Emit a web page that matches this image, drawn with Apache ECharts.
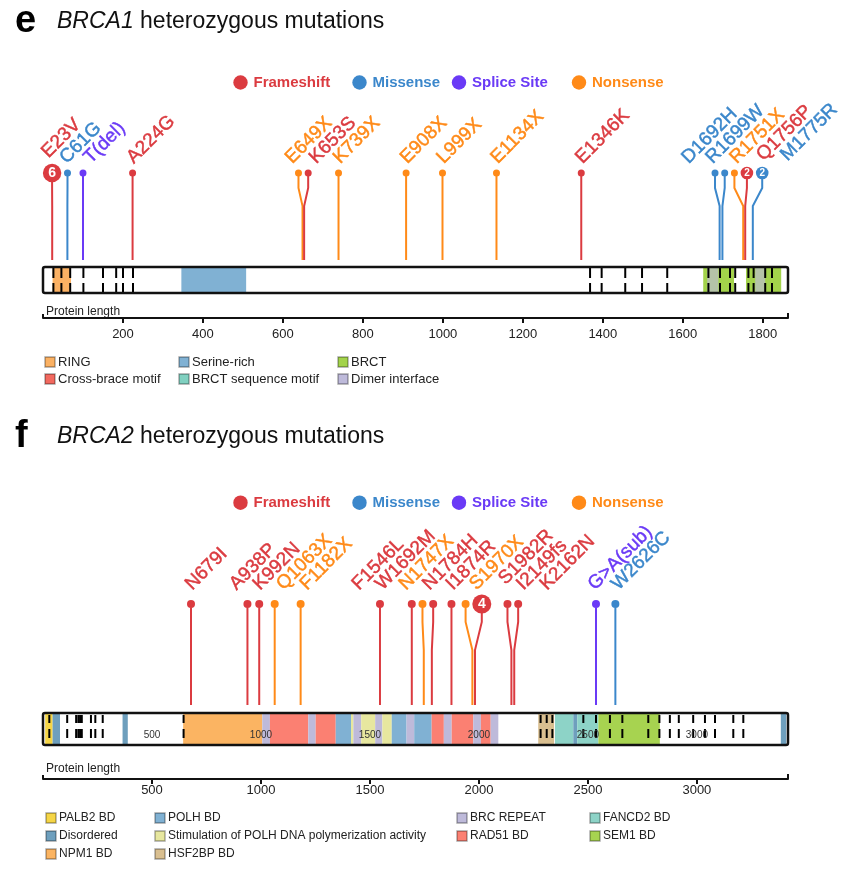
<!DOCTYPE html>
<html><head><meta charset="utf-8">
<script src="https://cdn.jsdelivr.net/npm/echarts@6/dist/echarts.min.js"></script>
<style>html,body{margin:0;padding:0;background:#fff}#c{width:843px;height:875px}</style>
</head><body><div id="c"></div><script>
// ---------------- DATA ----------------
const typeNames = ['Frameshift', 'Missense', 'Splice Site', 'Nonsense'];

// BRCA1
const brca1Length = 1863;
const brca1Ticks = [200, 400, 600, 800, 1000, 1200, 1400, 1600, 1800];
const brca1MutPos = [23, 61, 100, 224, 649, 653, 739, 908, 999, 1134, 1346, 1692, 1699, 1751, 1756, 1775];
const brca1MutLabel = ['E23V', 'C61G', 'T(del)', 'A224G', 'E649X', 'K653S', 'K739X', 'E908X', 'L999X', 'E1134X', 'E1346K', 'D1692H', 'R1699W', 'R1751X', 'Q1756P', 'M1775R'];
const brca1MutType = ['Frameshift', 'Missense', 'Splice Site', 'Frameshift', 'Nonsense', 'Frameshift', 'Nonsense', 'Nonsense', 'Nonsense', 'Nonsense', 'Frameshift', 'Missense', 'Missense', 'Nonsense', 'Frameshift', 'Missense'];
const brca1MutCount = [6, 1, 1, 1, 1, 1, 1, 1, 1, 1, 1, 1, 1, 1, 2, 2];
const brca1DomStart = [24, 346, 1651, 1758, 1661, 1781];
const brca1DomEnd = [70, 508, 1728, 1846, 1689, 1806];
const brca1DomName = ['RING', 'Serine-rich', 'BRCT', 'BRCT', 'Dimer interface', 'Dimer interface'];
const brca1Exons = [26, 46, 68, 101, 150, 183, 200, 225, 1368, 1397, 1456, 1498, 1561, 1664, 1693, 1718, 1731, 1764, 1777, 1806, 1823];
const brca1LegendNames = ['RING', 'Cross-brace motif', 'Serine-rich', 'BRCT sequence motif', 'BRCT', 'Dimer interface'];

// BRCA2
const brca2Length = 3418;
const brca2Ticks = [500, 1000, 1500, 2000, 2500, 3000];
const brca2MutPos = [679, 938, 992, 1063, 1182, 1546, 1692, 1747, 1784, 1874, 1970, 1982, 2149, 2162, 2537, 2626];
const brca2MutLabel = ['N679I', 'A938P', 'K992N', 'Q1063X', 'F1182X', 'F1546L', 'W1692M', 'N1747X', 'N1784H', 'I1874R', 'S1970X', 'S1982R', 'I2149fs', 'K2162N', 'G>A(sub)', 'W2626C'];
const brca2MutType = ['Frameshift', 'Frameshift', 'Frameshift', 'Nonsense', 'Nonsense', 'Frameshift', 'Frameshift', 'Nonsense', 'Frameshift', 'Frameshift', 'Nonsense', 'Frameshift', 'Frameshift', 'Frameshift', 'Splice Site', 'Missense'];
const brca2MutCount = [1, 1, 1, 1, 1, 1, 1, 1, 1, 1, 1, 4, 1, 1, 1, 1];
const brca2DomStart = [10, 44, 365, 643, 1006, 1041, 1217, 1251, 1343, 1413, 1424, 1460, 1524, 1557, 1600, 1668, 1703, 1783, 1839, 1875, 1974, 2009, 2054, 2272, 2349, 2433, 2451, 2548, 3385];
const brca2DomEnd = [44, 78, 389, 1006, 1041, 1217, 1251, 1343, 1413, 1424, 1460, 1524, 1557, 1600, 1668, 1703, 1783, 1839, 1875, 1974, 2009, 2054, 2089, 2345, 2433, 2451, 2548, 2830, 3410];
const brca2DomName = ['PALB2 BD', 'Disordered', 'Disordered', 'NPM1 BD', 'BRC REPEAT', 'RAD51 BD', 'BRC REPEAT', 'RAD51 BD', 'POLH BD', 'Stimulation of POLH DNA polymerization activity', 'BRC REPEAT', 'Stimulation of POLH DNA polymerization activity', 'BRC REPEAT', 'Stimulation of POLH DNA polymerization activity', 'POLH BD', 'BRC REPEAT', 'POLH BD', 'RAD51 BD', 'BRC REPEAT', 'RAD51 BD', 'BRC REPEAT', 'RAD51 BD', 'BRC REPEAT', 'HSF2BP BD', 'FANCD2 BD', 'Disordered', 'FANCD2 BD', 'SEM1 BD', 'Disordered'];
const brca2Exons = [29, 111, 152, 162, 170, 178, 220, 240, 274, 645, 2283, 2311, 2337, 2479, 2537, 2601, 2658, 2777, 2828, 2876, 2917, 2983, 3037, 3083, 3167, 3213];
const brca2LegendNames = ['PALB2 BD', 'Disordered', 'NPM1 BD', 'POLH BD', 'Stimulation of POLH DNA polymerization activity', 'HSF2BP BD', 'BRC REPEAT', 'RAD51 BD', 'FANCD2 BD', 'SEM1 BD'];

// ---------------- STYLES ----------------
const FONT = '"Liberation Sans", Arial, Helvetica, sans-serif';
const typeColor = {'Frameshift': '#DB3B40', 'Missense': '#3B87CB', 'Splice Site': '#6A3AF6', 'Nonsense': '#FF8A18'};
const domainColor = {
  'RING': '#FBB163', 'Cross-brace motif': '#F2695F', 'Serine-rich': '#80B1D3', 'BRCT sequence motif': '#80D0C0',
  'BRCT': '#A3D34B', 'Dimer interface': 'rgba(190,186,218,0.65)',
  'PALB2 BD': '#F5D546', 'Disordered': '#6E9FBD', 'NPM1 BD': '#FBB462', 'POLH BD': '#80B1D3',
  'Stimulation of POLH DNA polymerization activity': '#E7E79F', 'HSF2BP BD': '#D9BF90',
  'BRC REPEAT': '#BEBADA', 'RAD51 BD': '#FB8072', 'FANCD2 BD': '#8DD3C7', 'SEM1 BD': '#A7D350'
};
const legendSwatch = {'Dimer interface': '#BEBADA'};

const P1 = {axisY: 318, headY: -145, upperKnee: -130, lowerKnee: -112, stemBottom: -58, barTop: -51, barBottom: -25,
  exonA: [-50, -40], exonB: [-35, -25], dotR: 3.5, midR: 6.3, bigR: 9.2, headGap: 2.7, labelLift: 9, labelGap: 24, labelDx: -2.5, labelSize: 19};
const P2 = {axisY: 779, headY: -175, upperKnee: -157, lowerKnee: -129, stemBottom: -74, barTop: -66, barBottom: -34,
  exonA: [-64, -56], exonB: [-50, -41], dotR: 4, midR: 6.3, bigR: 9.5, headGap: 2.7, labelLift: 13, labelGap: 23.5, labelDx: -2.5, labelSize: 19, innerLabelY: -44};

// ---------------- HELPERS ----------------
function spread(d, gapFn) {
  const n = d.length, clusters = [];
  for (let i = 0; i < n; i++) {
    let c = {idx: [i], off: [0], base: d[i]};
    while (clusters.length) {
      const p = clusters[clusters.length - 1];
      const pl = p.idx[p.idx.length - 1];
      const g = gapFn(pl, i);
      const lastOff = p.off[p.off.length - 1];
      if (p.base + lastOff + g > c.base + 1e-9) {
        const shift = lastOff + g;
        const idx = p.idx.concat(c.idx);
        const off = p.off.concat(c.off.map(o => o + shift));
        let s = 0; idx.forEach((k, j) => { s += d[k] - off[j]; });
        c = {idx, off, base: s / idx.length};
        clusters.pop();
      } else break;
    }
    clusters.push(c);
  }
  const out = new Array(n);
  clusters.forEach(c => c.idx.forEach((k, j) => { out[k] = c.base + c.off[j]; }));
  return out;
}

function lollipopSeries(gi, pos, labels, types, counts, L) {
  let cache = null;
  function layout(api, cs) {
    const bottom = cs.y + cs.height;
    const px = pos.map(p => api.coord([p, 0])[0]);
    const r = counts.map(c => c >= 4 ? L.bigR : (c >= 2 ? L.midR : L.dotR));
    const hx = spread(px, (a) => r[a] + r[a + 1] + L.headGap);
    const hy = bottom + L.headY;
    const ly = r.map(rr => hy - rr - L.labelLift);
    const s = hx.map((x, i) => x + ly[i]);
    const order = s.map((v, i) => i).sort((a, b) => s[a] - s[b]);
    const sSorted = order.map(i => s[i]);
    const spreadS = spread(sSorted, () => L.labelGap);
    const lx = new Array(pos.length);
    order.forEach((k, j) => { lx[k] = spreadS[j] - ly[k] + L.labelDx; });
    return {bottom, px, r, hx, hy, ly, lx};
  }
  return {
    type: 'custom', xAxisIndex: gi, yAxisIndex: gi, clip: false, silent: true, z: 10,
    data: pos.map((p, i) => [p, i]),
    renderItem: function (params, api) {
      const i = params.dataIndex;
      if (i === 0 || !cache) cache = layout(api, params.coordSys);
      const C = cache, col = typeColor[types[i]];
      const b = C.bottom;
      const children = [];
      const pts = [[C.px[i], b + L.stemBottom], [C.px[i], b + L.lowerKnee], [C.hx[i], b + L.upperKnee], [C.hx[i], C.hy + C.r[i] - 0.5]];
      children.push({type: 'polyline', shape: {points: pts}, style: {stroke: col, lineWidth: 2, fill: null}});
      children.push({type: 'circle', shape: {cx: C.hx[i], cy: C.hy, r: C.r[i]}, style: {fill: col}});
      if (counts[i] > 1) {
        children.push({type: 'text', x: C.hx[i], y: C.hy + 0.5, style: {text: String(counts[i]), fill: '#fff',
          font: 'bold ' + (C.r[i] > 8 ? 14 : 10) + 'px ' + FONT, align: 'center', verticalAlign: 'middle'}});
      }
      children.push({type: 'text', x: C.lx[i], y: C.ly[i], rotation: Math.PI / 4, style: {text: labels[i], fill: col,
        stroke: col, lineWidth: 0.45,
        font: L.labelSize + 'px ' + FONT, align: 'left', verticalAlign: 'middle'}});
      return {type: 'group', children};
    }
  };
}

function domainSeries(gi, starts, ends, names, L) {
  return {
    type: 'custom', xAxisIndex: gi, yAxisIndex: gi, clip: false, silent: true, z: 2,
    data: starts.map((s, i) => [s, ends[i], i]),
    renderItem: function (params, api) {
      const cs = params.coordSys, b = cs.y + cs.height;
      const x1 = api.coord([api.value(0), 0])[0], x2 = api.coord([api.value(1), 0])[0];
      return {type: 'rect', shape: {x: x1, y: b + L.barTop, width: x2 - x1, height: L.barBottom - L.barTop},
        style: {fill: domainColor[names[api.value(2)]]}};
    }
  };
}

function exonSeries(gi, exons, L) {
  return {
    type: 'custom', xAxisIndex: gi, yAxisIndex: gi, clip: false, silent: true, z: 3,
    data: exons.map(e => [e, 0]),
    renderItem: function (params, api) {
      const cs = params.coordSys, b = cs.y + cs.height;
      const x = api.coord([api.value(0), 0])[0];
      return {type: 'group', children: [
        {type: 'line', shape: {x1: x, y1: b + L.exonA[0], x2: x, y2: b + L.exonA[1]}, style: {stroke: '#000', lineWidth: 2}},
        {type: 'line', shape: {x1: x, y1: b + L.exonB[0], x2: x, y2: b + L.exonB[1]}, style: {stroke: '#000', lineWidth: 2}}
      ]};
    }
  };
}

function outlineSeries(gi, len, L) {
  return {
    type: 'custom', xAxisIndex: gi, yAxisIndex: gi, clip: false, silent: true, z: 4,
    data: [[0, len]],
    renderItem: function (params, api) {
      const cs = params.coordSys, b = cs.y + cs.height;
      const x1 = api.coord([api.value(0), 0])[0], x2 = api.coord([api.value(1), 0])[0];
      return {type: 'group', children: [
        {type: 'rect', shape: {x: x1, y: b + L.barTop, width: x2 - x1, height: L.barBottom - L.barTop, r: 2},
          style: {fill: null, stroke: '#111', lineWidth: 2.5}},
        {type: 'line', shape: {x1: x1, y1: b - 4, x2: x1, y2: b}, style: {stroke: '#111', lineWidth: 2}},
        {type: 'line', shape: {x1: x2, y1: b - 5, x2: x2, y2: b}, style: {stroke: '#111', lineWidth: 2}}
      ]};
    }
  };
}

function innerLabelSeries(gi, ticks, L) {
  return {
    type: 'custom', xAxisIndex: gi, yAxisIndex: gi, clip: false, silent: true, z: 5,
    data: ticks.map(t => [t, 0]),
    renderItem: function (params, api) {
      const cs = params.coordSys, b = cs.y + cs.height;
      const x = api.coord([api.value(0), 0])[0];
      return {type: 'text', x: x, y: b + L.innerLabelY, style: {text: String(api.value(0)), fill: '#333',
        font: '10px ' + FONT, align: 'center', verticalAlign: 'middle'}};
    }
  };
}

function xAxisCfg(gi, len, ticks, margin) {
  return {gridIndex: gi, type: 'value', min: 0, max: len, position: 'bottom',
    axisLine: {show: true, onZero: false, lineStyle: {color: '#111', width: 2}},
    axisTick: {show: true, customValues: ticks, length: 5, lineStyle: {color: '#111', width: 2}},
    axisLabel: {show: true, customValues: ticks, formatter: v => String(v), fontSize: 13, color: '#222', margin: margin, fontFamily: FONT},
    splitLine: {show: false}};
}

// ---------------- GRAPHIC (titles, legends) ----------------
const graphic = [];
function title(letter, gene, baseY) {
  graphic.push({type: 'text', x: 15, y: baseY - 10, style: {text: letter, font: 'bold 38px ' + FONT, fill: '#000', verticalAlign: 'middle'}});
  graphic.push({type: 'text', x: 57, y: baseY - 10, style: {text: '{i|' + gene + '} heterozygous mutations', font: '23px ' + FONT, fill: '#111', verticalAlign: 'middle',
    rich: {i: {fontStyle: 'italic', fontSize: 23, fontFamily: FONT, fill: '#111'}}}});
}
function mutLegend(cy) {
  const xs = [240.5, 359.5, 459, 579];
  typeNames.forEach((t, k) => {
    graphic.push({type: 'circle', shape: {cx: xs[k], cy: cy, r: 7.2}, style: {fill: typeColor[t]}});
    graphic.push({type: 'text', x: xs[k] + 13, y: cy, style: {text: t, fill: typeColor[t], font: 'bold 15px ' + FONT, verticalAlign: 'middle'}});
  });
}
function domLegend(names, cols, rowsY, perCol, fs) {
  names.forEach((n, k) => {
    let col = 0, acc = 0;
    for (let j = 0; j < perCol.length; j++) { if (k < acc + perCol[j]) { col = j; break; } acc += perCol[j]; }
    const row = k - acc;
    const x = cols[col], y = rowsY[row];
    graphic.push({type: 'rect', shape: {x: x, y: y - 5, width: 10, height: 10}, style: {fill: legendSwatch[n] || domainColor[n], stroke: 'rgba(0,0,0,0.35)', lineWidth: 1.4}});
    graphic.push({type: 'text', x: x + 13, y: y, style: {text: n, fill: '#222', font: fs + 'px ' + FONT, verticalAlign: 'middle'}});
  });
}
title('e', 'BRCA1', 32);
title('f', 'BRCA2', 447);
mutLegend(82.5);
mutLegend(502.7);
graphic.push({type: 'text', x: 46, y: 311.5, style: {text: 'Protein length', fill: '#222', font: '12px ' + FONT, verticalAlign: 'middle'}});
graphic.push({type: 'text', x: 46, y: 769, style: {text: 'Protein length', fill: '#222', font: '12px ' + FONT, verticalAlign: 'middle'}});
domLegend(brca1LegendNames, [45, 179, 338], [362, 379], [2, 2, 2], 13);
domLegend(brca2LegendNames, [46, 155, 457, 590], [818, 836, 854], [3, 3, 2, 2], 12);

// ---------------- CHART ----------------
const chart = echarts.init(document.getElementById('c'), null, {renderer: 'canvas', width: 843, height: 875});
chart.setOption({
  animation: false,
  backgroundColor: '#fff',
  grid: [
    {left: 43, width: 745, top: 60, height: P1.axisY - 60},
    {left: 43, width: 745, top: 480, height: P2.axisY - 480}
  ],
  xAxis: [xAxisCfg(0, brca1Length, brca1Ticks, 10), xAxisCfg(1, brca2Length, brca2Ticks, 5)],
  yAxis: [
    {gridIndex: 0, type: 'value', min: 0, max: 1, show: false},
    {gridIndex: 1, type: 'value', min: 0, max: 1, show: false}
  ],
  graphic: graphic,
  series: [
    domainSeries(0, brca1DomStart, brca1DomEnd, brca1DomName, P1),
    exonSeries(0, brca1Exons, P1),
    outlineSeries(0, brca1Length, P1),
    lollipopSeries(0, brca1MutPos, brca1MutLabel, brca1MutType, brca1MutCount, P1),
    domainSeries(1, brca2DomStart, brca2DomEnd, brca2DomName, P2),
    exonSeries(1, brca2Exons, P2),
    outlineSeries(1, brca2Length, P2),
    innerLabelSeries(1, brca2Ticks, P2),
    lollipopSeries(1, brca2MutPos, brca2MutLabel, brca2MutType, brca2MutCount, P2)
  ]
});
</script></body></html>
